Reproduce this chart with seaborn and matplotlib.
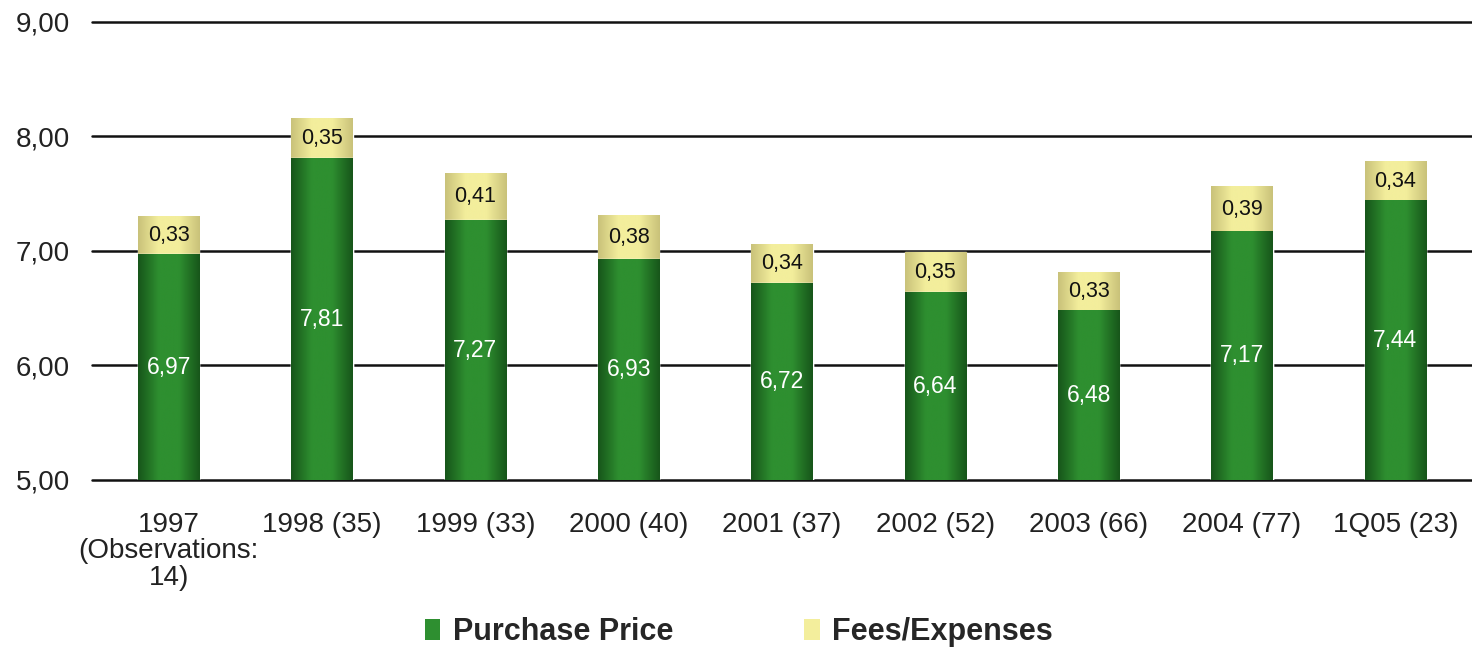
import numpy as np
import pandas as pd
import seaborn as sns
import matplotlib.pyplot as plt
from matplotlib.patches import Patch

categories = ["1997\n(Observations:\n14)", "1998 (35)", "1999 (33)", "2000 (40)", "2001 (37)",
              "2002 (52)", "2003 (66)", "2004 (77)", "1Q05 (23)"]
purchase_price = [6.97, 7.81, 7.27, 6.93, 6.72, 6.64, 6.48, 7.17, 7.44]
fees_expenses = [0.33, 0.35, 0.41, 0.38, 0.34, 0.35, 0.33, 0.39, 0.34]
y_ticks = [5, 6, 7, 8, 9]

GREEN = "#2e8f30"
GREEN_DARK = "#17561a"
YELLOW = "#f3ee9c"
YELLOW_DARK = "#c9c27a"
Y_MIN, Y_MAX = 5, 9


def fmt(v):
    return f"{v:.2f}".replace(".", ",")


def shade_bars(ax, patches, dark, light):
    # horizontal gradient: dark edges, light centre
    cmap = sns.blend_palette([dark, light, light, dark], as_cmap=True)
    grad = np.linspace(0, 1, 64).reshape(1, -1)
    for p in patches:
        x0, y0 = p.get_x(), p.get_y()
        w, h = p.get_width(), p.get_height()
        lo = max(y0, Y_MIN)
        hi = min(y0 + h, Y_MAX)
        if hi <= lo:
            continue
        ax.imshow(grad, cmap=cmap, aspect="auto", extent=(x0, x0 + w, lo, hi),
                  zorder=p.get_zorder() + 0.1, interpolation="bicubic")


def main():
    sns.set_style("white")
    plt.rcParams["font.family"] = ["Liberation Sans", "DejaVu Sans"]

    df = pd.DataFrame({"cat": categories, "price": purchase_price, "fees": fees_expenses})
    df["total"] = df["price"] + df["fees"]

    fig = plt.figure(figsize=(14.72, 6.48), dpi=100)
    ax = fig.add_axes([0.0625, 0.2593, 0.9375, 0.7068])

    sns.barplot(data=df, x="cat", y="total", color=YELLOW, width=0.40, ax=ax,
                saturation=1, zorder=3)
    n = len(ax.patches)
    sns.barplot(data=df, x="cat", y="price", color=GREEN, width=0.40, ax=ax,
                saturation=1, zorder=4)
    fee_bars = ax.patches[:n]
    price_bars = ax.patches[n:]
    shade_bars(ax, fee_bars, YELLOW_DARK, YELLOW)
    shade_bars(ax, price_bars, GREEN_DARK, GREEN)

    ax.set_ylim(Y_MIN, Y_MAX)
    ax.set_xlim(-0.5, len(categories) - 0.5)
    ax.set_yticks(y_ticks)
    ax.set_yticklabels([fmt(v) for v in y_ticks])
    ax.yaxis.grid(True, color="#111111", linewidth=1.8)
    for gl in ax.get_ygridlines():
        gl.set_clip_on(False)
    ax.set_axisbelow(True)
    for s in ax.spines.values():
        s.set_visible(False)
    ax.tick_params(axis="y", length=0, pad=16, labelsize=20, labelcolor="#222222")
    ax.tick_params(axis="x", length=0, pad=23, labelsize=20, labelcolor="#222222")
    for lab in ax.get_xticklabels():
        lab.set_linespacing(1.02)
    ax.set_xlabel("")
    ax.set_ylabel("")

    for i, (p, f) in enumerate(zip(purchase_price, fees_expenses)):
        ax.text(i, (Y_MIN + p) / 2, fmt(p), ha="center", va="center", color="white",
                fontsize=16.5, zorder=6)
        ax.text(i, p + f / 2, fmt(f), ha="center", va="center", color="#111111",
                fontsize=15.5, zorder=6)

    handles = [Patch(facecolor=GREEN, edgecolor="none"), Patch(facecolor=YELLOW, edgecolor="none")]
    fig.legend(handles, ["Purchase Price", "Fees/Expenses"], loc="center", ncol=2,
               bbox_to_anchor=(0.502, 0.024), frameon=False, handlelength=0.5,
               handleheight=0.7, handletextpad=0.4, columnspacing=4.3,
               prop={"size": 22, "weight": "bold"})

    fig.savefig("out.png", dpi=100)


if __name__ == "__main__":
    main()
